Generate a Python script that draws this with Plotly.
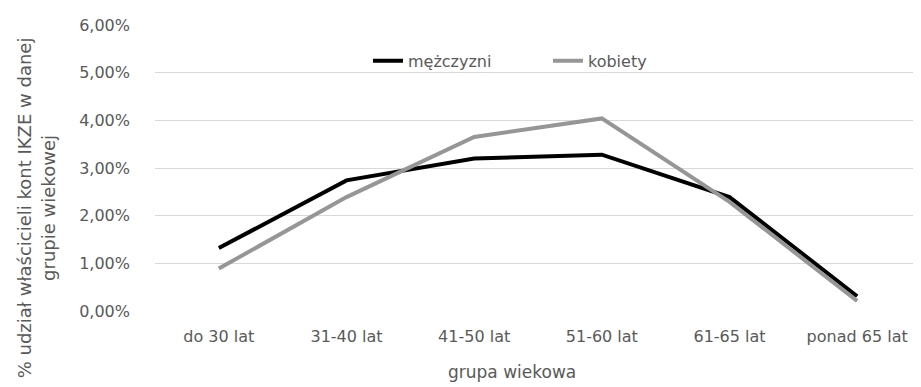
import plotly.graph_objects as go

categories = ["do 30 lat", "31-40 lat", "41-50 lat", "51-60 lat", "61-65 lat", "ponad 65 lat"]
mezczyzni = [0.0132, 0.0274, 0.0320, 0.0328, 0.0239, 0.0031]
kobiety = [0.0089, 0.0239, 0.0365, 0.0404, 0.0229, 0.0021]

FONT = "DejaVu Sans"
TXT = "#595959"

fig = go.Figure()
fig.add_trace(go.Scatter(x=categories, y=mezczyzni, mode="lines", name="mężczyzni",
                         line=dict(color="#000000", width=4)))
fig.add_trace(go.Scatter(x=categories, y=kobiety, mode="lines", name="kobiety",
                         line=dict(color="#969696", width=4)))

fig.update_layout(
    width=921, height=387,
    margin=dict(l=147, r=8, t=12, b=84),
    paper_bgcolor="white", plot_bgcolor="white",
    separators=", ",
    font=dict(family=FONT, size=16, color=TXT),
    showlegend=True,
    legend=dict(orientation="h", x=0.278, y=0.875, xanchor="left", yanchor="middle",
                bgcolor="rgba(255,255,255,0)", font=dict(size=16, color=TXT),
                entrywidth=135, entrywidthmode="pixels", tracegroupgap=0),
    xaxis=dict(showgrid=False, showline=False, ticks="", range=[-0.5, 5.5],
               tickfont=dict(size=16, color=TXT), ticklabelstandoff=14),
    yaxis=dict(range=[0, 0.06], dtick=0.01, tickformat=".2%", showgrid=True,
               gridcolor="#d9d9d9", gridwidth=1, zeroline=False, showline=False,
               ticks="", tickfont=dict(size=16, color=TXT), ticklabelstandoff=24),
    annotations=[
        dict(text="% udział właścicieli kont IKZE w danej<br>grupie wiekowej",
             textangle=-90, xref="paper", yref="paper",
             x=-0.155, y=0.36, xanchor="center", yanchor="middle",
             showarrow=False, font=dict(size=18, color=TXT)),
        dict(text="grupa wiekowa", xref="paper", yref="paper",
             x=0.466, y=-0.213, xanchor="center", yanchor="middle",
             showarrow=False, font=dict(size=17, color=TXT)),
    ],
)

fig.write_html("out.html")
